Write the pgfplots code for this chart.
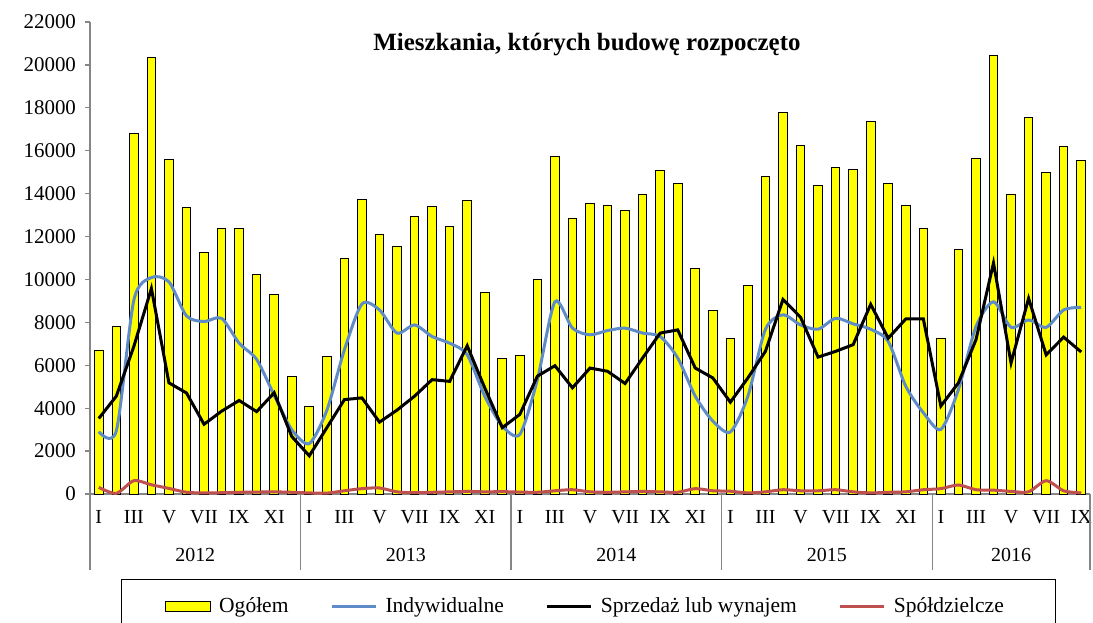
\documentclass[border=0pt]{standalone}
\usepackage{fontspec}
\setmainfont{Liberation Serif}
\usepackage{pgfplots}
\usepackage{pgfplotstable}
\pgfplotsset{compat=1.18}
\definecolor{barY}{RGB}{255,255,0}
\definecolor{indBlue}{RGB}{95,140,200}
\definecolor{spRed}{RGB}{192,80,77}
\definecolor{axGray}{RGB}{134,134,134}
\pgfplotsset{
  barleg/.style={legend image code/.code={\draw[##1] (0bp,-2.5bp) rectangle (22.5bp,2.5bp);}},
  lineleg/.style={legend image code/.code={\draw[##1] (0bp,0bp) -- (22bp,0bp);}},
}

\pgfplotstableread{
x tot ind spr spo
0 6700 2906 3520 310
1 7800 2937 4560 30
2 16800 9040 6880 620
3 20350 10090 9580 430
4 15570 9890 5180 260
5 13350 8300 4710 80
6 11270 8040 3250 50
7 12370 8190 3860 60
8 12370 7030 4360 80
9 10210 6270 3840 90
10 9320 4600 4720 100
11 5500 3000 2680 80
12 4100 2350 1780 50
13 6400 3900 3090 40
14 10990 6720 4400 150
15 13750 8860 4480 250
16 12090 8580 3350 280
17 11530 7500 3910 100
18 12930 7880 4560 60
19 13400 7340 5330 80
20 12490 7030 5250 100
21 13690 6490 6910 120
22 9370 4560 4950 100
23 6330 3170 3090 110
24 6470 2780 3710 90
25 10010 5330 5490 80
26 15710 8960 5980 150
27 12850 7730 4950 200
28 13550 7420 5870 100
29 13470 7620 5720 80
30 13210 7730 5150 100
31 13970 7500 6340 120
32 15070 7340 7500 100
33 14450 6340 7650 80
34 10500 4560 5870 250
35 8550 3400 5410 150
36 7230 2890 4280 130
37 9740 4560 5410 50
38 14790 7680 6650 100
39 17780 8350 9070 200
40 16250 7880 8240 150
41 14370 7680 6380 150
42 15210 8190 6650 200
43 15130 7930 6960 100
44 17360 7680 8840 50
45 14450 7110 7260 80
46 13470 5020 8160 100
47 12370 3790 8160 200
48 7230 3010 4100 250
49 11410 4870 5180 420
50 15620 7800 7190 200
51 20420 8960 10770 180
52 13970 7770 6110 120
53 17560 8110 9120 100
54 15000 7770 6490 620
55 16190 8580 7310 150
56 15560 8700 6620 50
}\datatable

\begin{document}
\begin{tikzpicture}
\begin{axis}[
  name=ax, at={(0,0)}, anchor=south west,
  scale only axis, width=500bp, height=236bp,
  xmin=-0.5, xmax=56.5, ymin=0, ymax=22000,
  axis x line=bottom, axis y line=left,
  axis line style={-, draw=axGray, line width=0.6pt},
  tick align=outside, major tick length=2.5bp,
  ytick={0,2000,...,22000},
  scaled y ticks=false,
  y tick style={draw=axGray, line width=0.6pt},
  yticklabel style={/pgf/number format/1000 sep={}, /pgf/number format/assume math mode=true,
    font=\fontsize{10.5}{12}\selectfont, xshift=-1bp},
  xtick={0,2,...,56},
  xticklabels={I,III,V,VII,IX,XI,I,III,V,VII,IX,XI,I,III,V,VII,IX,XI,I,III,V,VII,IX,XI,I,III,V,VII,IX},
  x tick style={draw=none},
  xticklabel style={font=\fontsize{10}{12}\selectfont, yshift=-2bp},
  clip=false,
  legend columns=4,
  legend style={at={(0.4985,-0.180)}, anchor=north, draw=black, line width=0.6pt,
    font=\fontsize{10.8}{12}\selectfont, inner xsep=22bp, inner ysep=7bp,
    nodes={inner xsep=4bp},
    /tikz/every even column/.append style={column sep=17bp}},
]
\addplot[ybar, bar width=4.3bp, fill=barY, draw=black, line width=0.5pt, barleg]
  table[x=x, y=tot] {\datatable};
\addlegendentry{Ogółem}
\addplot[indBlue, line width=1.5bp, smooth, tension=0.45, no marks, lineleg]
  table[x=x, y=ind] {\datatable};
\addlegendentry{Indywidualne}
\addplot[black, line width=1.5bp, no marks, lineleg]
  table[x=x, y=spr] {\datatable};
\addlegendentry{Sprzedaż lub wynajem}
\addplot[spRed, line width=1.5bp, smooth, tension=0.45, no marks, lineleg]
  table[x=x, y=spo] {\datatable};
\addlegendentry{Spółdzielcze}

\draw[axGray, line width=0.6pt] (axis cs:-0.5,0) -- ++(0bp,-38bp);
\draw[axGray, line width=0.6pt] (axis cs:11.5,0) -- ++(0bp,-38bp);
\draw[axGray, line width=0.6pt] (axis cs:23.5,0) -- ++(0bp,-38bp);
\draw[axGray, line width=0.6pt] (axis cs:35.5,0) -- ++(0bp,-38bp);
\draw[axGray, line width=0.6pt] (axis cs:47.5,0) -- ++(0bp,-38bp);
\draw[axGray, line width=0.6pt] (axis cs:56.5,0) -- ++(0bp,-38bp);
\node[font=\fontsize{10}{12}\selectfont] at ([yshift=-30.5bp]axis cs:5.5,0) {2012};
\node[font=\fontsize{10}{12}\selectfont] at ([yshift=-30.5bp]axis cs:17.5,0) {2013};
\node[font=\fontsize{10}{12}\selectfont] at ([yshift=-30.5bp]axis cs:29.5,0) {2014};
\node[font=\fontsize{10}{12}\selectfont] at ([yshift=-30.5bp]axis cs:41.5,0) {2015};
\node[font=\fontsize{10}{12}\selectfont] at ([yshift=-30.5bp]axis cs:52,0) {2016};
\node[font=\bfseries\fontsize{12.5}{14}\selectfont] at ([yshift=-11.5bp]rel axis cs:0.497,1) {Mieszkania, których budowę rozpoczęto};
\end{axis}
\pgfresetboundingbox
\path (-45bp,-64.5bp) rectangle (501.5bp,247bp);
\end{tikzpicture}
\end{document}
